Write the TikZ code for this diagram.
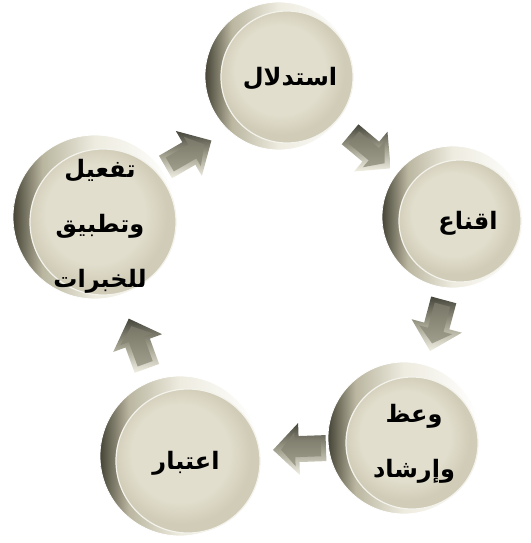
\documentclass[tikz,border=0pt]{standalone}
\usepackage{fontspec}
\newfontfamily\arabicfont[Script=Arabic]{DejaVu Sans}
\TeXXeTstate=1
\definecolor{rimdark}{RGB}{70,68,54}
\definecolor{rimmid}{RGB}{186,182,160}
\definecolor{rimlight}{RGB}{238,236,224}
\definecolor{facein}{RGB}{226,222,205}
\definecolor{faceout}{RGB}{208,204,183}
\definecolor{arrdark}{RGB}{70,70,60}
\definecolor{arrlight}{RGB}{242,240,228}
\definecolor{arrface}{RGB}{160,158,140}
\definecolor{arrface2}{RGB}{120,118,102}
\pgfdeclarehorizontalshading{rimshade}{100bp}{color(0bp)=(rimdark); color(25bp)=(rimdark); color(34bp)=(rimmid); color(50bp)=(rimlight); color(75bp)=(white); color(100bp)=(white)}
\pgfdeclareradialshading{faceshade}{\pgfpoint{-4bp}{4bp}}{color(0bp)=(facein); color(17bp)=(facein); color(24bp)=(faceout); color(50bp)=(faceout)}
\begin{document}
\begin{tikzpicture}[x=1pt,y=-1pt,
  rim/.style={circle, minimum size=#1, inner sep=0pt, shading=rimshade, draw=white, line width=0.8pt},
  face/.style={circle, minimum size=#1, inner sep=0pt, shading=faceshade, draw=white!60!facein, line width=1.2pt},
  lbl/.style={font=\arabicfont\bfseries\fontsize{24}{55}\selectfont, align=center, inner sep=0pt},
  blockarrow/.pic={
    \path[top color=arrdark, bottom color=arrlight, middle color=arrface]
      (-26,13)--(1,13)--(1,26)--(27,0)--(1,-26)--(1,-13)--(-26,-13)--cycle;
    \path[top color=arrface2, bottom color=arrface]
      (-21,8)--(5,8)--(5,17)--(19,0)--(5,-17)--(5,-8)--(-21,-8)--cycle;
  }]
\useasboundingbox (0,0) rectangle (530,543);
% circles
\node[rim=148] (r1) at (279,76) {};
\node[face=132] (f1) at (287,77) {};
\node[lbl] (t1) at (290,79) {\beginR استدلال\endR};

\node[rim=142] (r2) at (453,217) {};
\node[face=122] (f2) at (460,221) {};
\node[lbl] (t2) at (468,223) {\beginR اقناع\endR};

\node[rim=152] (r3) at (404,438) {};
\node[face=132] (f3) at (412,443) {};
\node[lbl] (t3) at (414,444) {\beginR وعظ\endR\\\beginR وإرشاد\endR};

\node[rim=160] (r4) at (180,456) {};
\node[face=144] (f4) at (188,461) {};
\node[lbl] (t4) at (186,463) {\beginR اعتبار\endR};

\node[rim=164] (r5) at (95,217) {};
\node[face=146] (f5) at (103,222) {};
\node[lbl] (t5) at (100,226) {\beginR تفعيل\endR\\\beginR وتطبيق\endR\\\beginR للخبرات\endR};

% arrows
\coordinate (a1) at (188,154);
\coordinate (a2) at (370,151);
\coordinate (a3) at (437,325);
\coordinate (a4) at (300,449);
\coordinate (a5) at (138,344);
\pic[rotate=30] at (a1) {blockarrow};
\pic[rotate=-40] at (a2) {blockarrow};
\pic[rotate=-105] at (a3) {blockarrow};
\pic[rotate=182] at (a4) {blockarrow};
\pic[rotate=110] at (a5) {blockarrow};
\end{tikzpicture}
\end{document}
